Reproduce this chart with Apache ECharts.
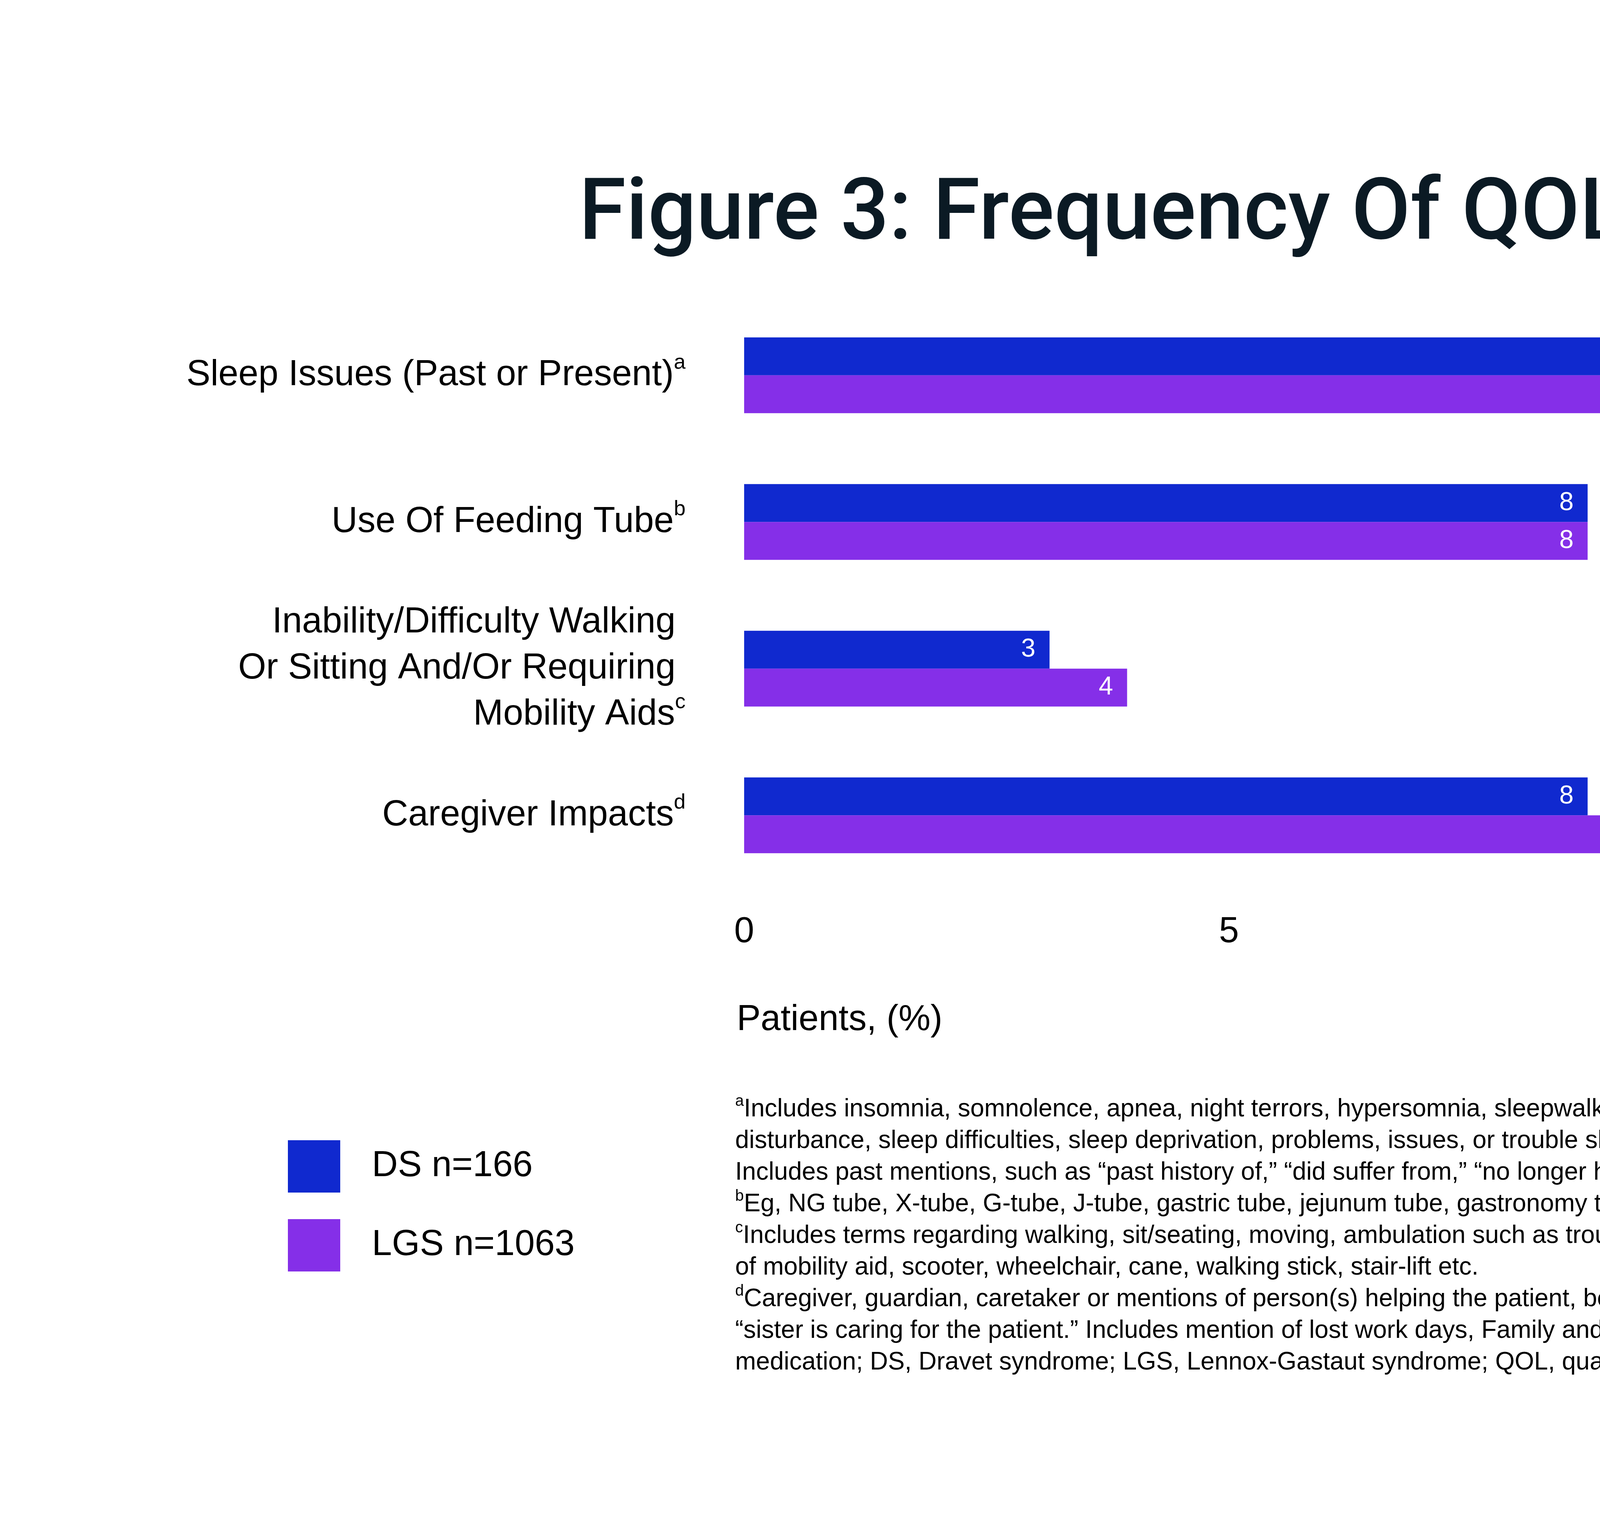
<!DOCTYPE html>
<html>
<head>
<meta charset="utf-8">
<title>Figure 3: Frequency Of QOL Impacts</title>
<script src="https://cdn.jsdelivr.net/npm/echarts@6/dist/echarts.min.js"></script>
<style>
  html, body { margin: 0; padding: 0; background: #ffffff; }
  #chart { width: 6186px; height: 3881px; }
</style>
</head>
<body>
<div id="chart"></div>
<script>
// categories (top to bottom) and their footnote markers
const categories = [
  'Sleep Issues (Past or Present)',
  'Use Of Feeding Tube',
  'Inability/Difficulty Walking \nOr Sitting And/Or Requiring \nMobility Aids',
  'Caregiver Impacts'
];
const categoryNotes = ['a', 'b', 'c', 'd'];

const dsValues = [12.8, 8.7, 3.15, 8.7];
const lgsValues = [10.2, 8.7, 3.95, 14.1];
const dsLabels = ['13', '8', '3', '8'];
const lgsLabels = ['10', '8', '4', '14'];

const seriesNames = ['DS n=166', 'LGS n=1063'];
const xTicks = [0, 5, 10, 15];

const footnoteLines = [
  ['a', 'Includes insomnia, somnolence, apnea, night terrors, hypersomnia, sleepwalking, sleep disorder, sleep dysfunction, sleep'],
  ['', 'disturbance, sleep difficulties, sleep deprivation, problems, issues, or trouble sleeping, daytime sleepiness, restlessness, poor sleep.'],
  ['', 'Includes past mentions, such as \u201cpast history of,\u201d \u201cdid suffer from,\u201d \u201cno longer has\u201d etc.'],
  ['b', 'Eg, NG tube, X-tube, G-tube, J-tube, gastric tube, jejunum tube, gastronomy tube feeding, and feeding tube;'],
  ['c', 'Includes terms regarding walking, sit/seating, moving, ambulation such as trouble, issues, inability, problem, difficulty etc. Mentions'],
  ['', 'of mobility aid, scooter, wheelchair, cane, walking stick, stair-lift etc.'],
  ['d', 'Caregiver, guardian, caretaker or mentions of person(s) helping the patient, be it a name (encrypted), family member, friend etc, eg,'],
  ['', '\u201csister is caring for the patient.\u201d Includes mention of lost work days, Family and Medical Leave Act, and disability. ASM, antiseizure'],
  ['', 'medication; DS, Dravet syndrome; LGS, Lennox-Gastaut syndrome; QOL, quality of life.']
];

const FONT = '"Liberation Sans", Arial, sans-serif';
const DS_COLOR = '#1029cf';
const LGS_COLOR = '#852fe8';

let chart = echarts.init(document.getElementById('chart'), null, { renderer: 'canvas' });

// category label: each line tagged, superscript marker after the last line
function categoryLabel(value, idx) {
  const lines = value.split('\n');
  return lines.map((l, i) => {
    let s = '{n|' + l + '}';
    if (i === lines.length - 1) s += '{s|' + categoryNotes[idx] + '}';
    return s;
  }).join('\n');
}

const footnoteText = footnoteLines.map(([mark, txt]) => {
  return (mark ? '{s|' + mark + '}' : '') + '{t|' + txt + '}';
}).join('\n');

var option = {
  backgroundColor: '#ffffff',
  animation: false,
  title: {
    text: 'Figure 3: Frequency Of QOL Impacts',
    left: 1482,
    top: 447,
    padding: 0,
    textStyle: {
      fontFamily: 'Roboto, ' + FONT,
      fontWeight: 500,
      fontSize: 219,
      color: '#0b1a24'
    }
  },
  legend: {
    orient: 'vertical',
    left: 737,
    top: 2919,
    padding: 0,
    itemWidth: 134,
    itemHeight: 134,
    itemGap: 68,
    icon: 'rect',
    data: seriesNames,
    textStyle: {
      fontFamily: FONT,
      fontSize: 92,
      color: '#000000',
      padding: [0, 0, 0, 76]
    }
  },
  grid: {
    left: 1905,
    right: 558,
    top: 773,
    bottom: 1606,
    containLabel: false
  },
  xAxis: {
    type: 'value',
    min: xTicks[0],
    max: xTicks[xTicks.length - 1],
    interval: xTicks[1] - xTicks[0],
    axisLine: { show: false },
    axisTick: { show: false },
    splitLine: { show: false },
    axisLabel: {
      margin: 66,
      fontFamily: FONT,
      fontSize: 92,
      color: '#000000'
    }
  },
  yAxis: {
    type: 'category',
    inverse: true,
    data: categories,
    axisLine: { show: false },
    axisTick: { show: false },
    axisLabel: {
      margin: 150,
      formatter: categoryLabel,
      rich: {
        n: { fontFamily: FONT, fontSize: 92, lineHeight: 118, color: '#000000' },
        s: { fontFamily: FONT, fontSize: 54, lineHeight: 88, verticalAlign: 'top', color: '#000000' }
      }
    }
  },
  series: [
    {
      name: seriesNames[0],
      type: 'bar',
      data: dsValues,
      barWidth: 97,
      barGap: '0%',
      itemStyle: { color: DS_COLOR },
      label: {
        show: true,
        position: 'insideRight',
        distance: 36,
        fontFamily: FONT,
        fontSize: 66,
        color: '#ffffff',
        formatter: p => dsLabels[p.dataIndex]
      }
    },
    {
      name: seriesNames[1],
      type: 'bar',
      data: lgsValues,
      barWidth: 97,
      barGap: '0%',
      itemStyle: { color: LGS_COLOR },
      label: {
        show: true,
        position: 'insideRight',
        distance: 36,
        fontFamily: FONT,
        fontSize: 66,
        color: '#ffffff',
        formatter: p => lgsLabels[p.dataIndex]
      }
    }
  ],
  graphic: [
    {
      type: 'text',
      left: 1886,
      top: 2566,
      style: {
        text: 'Patients, (%)',
        fontFamily: FONT,
        fontSize: 92,
        fill: '#000000'
      }
    },
    {
      type: 'text',
      left: 1882,
      top: 2800,
      style: {
        text: footnoteText,
        rich: {
          t: { fontFamily: FONT, fontSize: 64, lineHeight: 81, fill: '#000000' },
          s: { fontFamily: FONT, fontSize: 40, lineHeight: 62, verticalAlign: 'top', fill: '#000000' }
        }
      }
    }
  ]
};

chart.setOption(option);
</script>
</body>
</html>
